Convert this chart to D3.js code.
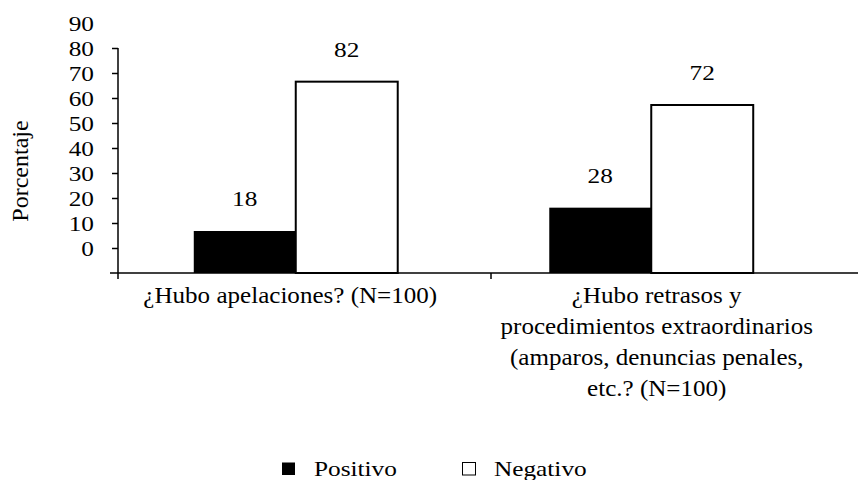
<!DOCTYPE html>
<html>
<head>
<meta charset="utf-8">
<script src="https://cdn.jsdelivr.net/npm/d3@7"></script>
<style>
  html, body { margin: 0; padding: 0; background: #fff; }
  svg text { font-family: "Liberation Serif", "Times New Roman", serif; fill: #000; }
</style>
</head>
<body>
<svg id="chart" width="858" height="480"></svg>
<script>
// Data
const categories = [
  ["¿Hubo apelaciones? (N=100)"],
  ["¿Hubo retrasos y", "procedimientos extraordinarios", "(amparos, denuncias penales,", "etc.? (N=100)"]
];
const seriesNames = ["Positivo", "Negativo"];
const positivo = [18, 28];
const negativo = [82, 72];
const tickLabels = [0, 10, 20, 30, 40, 50, 60, 70, 80, 90];

const svg = d3.select("#chart");
const W = 858;
const stretch = 1.15;     // horizontal widening of the serif glyphs
const catStretch = 1.09;  // same, for the category labels

const catIds = categories.map((c, i) => i);
const rows = catIds.map(i => ({ id: i, values: [positivo[i], negativo[i]] }));

// Bar scales
const x0 = d3.scaleBand().domain(catIds).range([118, 829]).paddingInner(0).paddingOuter(0);
const x1 = d3.scaleBand().domain(seriesNames).range([0, x0.bandwidth()]).paddingInner(0).paddingOuter(0.743);
const y = d3.scaleLinear().domain([0, 96]).range([273, 49]);

// Scale used by the printed axis labels
const yTick = d3.scaleLinear().domain([0, 90]).range([248, 23]);
// Category separators along the base line
const xSep = d3.scaleBand().domain(catIds).range([118, 864]);
// Category label placement
const xLab = d3.scaleBand().domain(catIds).range([107, 840]);

const fills = { "Positivo": "#000", "Negativo": "#fff" };

// Bars
const groups = svg.append("g").selectAll("g.cat").data(rows).join("g")
  .attr("class", "cat")
  .attr("transform", d => `translate(${x0(d.id)},0)`);

groups.selectAll("rect").data(d => d.values.map((v, k) => ({ s: seriesNames[k], v })))
  .join("rect")
  .attr("x", d => x1(d.s))
  .attr("y", d => y(d.v))
  .attr("width", x1.bandwidth())
  .attr("height", d => y(0) - y(d.v))
  .attr("fill", d => fills[d.s])
  .attr("stroke", "#000")
  .attr("stroke-width", d => d.s === "Negativo" ? 2 : 0);

// Value labels
groups.selectAll("text.val").data(d => d.values.map((v, k) => ({ s: seriesNames[k], v })))
  .join("text")
  .attr("class", "val")
  .attr("text-anchor", "middle")
  .attr("font-size", 22)
  .attr("transform", d => `translate(${x1(d.s) + x1.bandwidth() / 2},${y(d.v) - 25}) scale(${stretch},1)`)
  .text(d => d.v);

// Y axis
const axisG = svg.append("g").attr("transform", "translate(118,0)");
axisG.call(d3.axisLeft(yTick).tickValues(tickLabels).tickSize(6).tickPadding(18).tickFormat(d3.format("d")));
axisG.select(".domain").remove();
axisG.selectAll(".tick line").attr("stroke", "#000").attr("stroke-width", 1.5)
  .filter(d => d === 90).remove();
axisG.selectAll(".tick text")
  .attr("font-size", 22)
  .attr("dy", "0.34em")
  .each(function () {
    const t = d3.select(this);
    const xx = +t.attr("x");
    t.attr("x", null).attr("transform", `translate(${xx},0) scale(${stretch},1)`);
  });

// Vertical axis line, extends slightly below the base line
svg.append("line")
  .attr("x1", 118).attr("x2", 118)
  .attr("y1", yTick(80)).attr("y2", y(0) + 6)
  .attr("stroke", "#000").attr("stroke-width", 1.5);

// Base line
svg.append("line")
  .attr("x1", 110).attr("x2", W)
  .attr("y1", y(0)).attr("y2", y(0))
  .attr("stroke", "#000").attr("stroke-width", 1.5);

// Category separator ticks
svg.selectAll("line.sep").data(catIds.slice(1)).join("line")
  .attr("class", "sep")
  .attr("x1", d => xSep(d)).attr("x2", d => xSep(d))
  .attr("y1", y(0)).attr("y2", y(0) + 6)
  .attr("stroke", "#000").attr("stroke-width", 1.5);

// Category labels
svg.selectAll("g.catlab").data(rows).join("g")
  .attr("class", "catlab")
  .each(function (d) {
    const cx = xLab(d.id) + xLab.bandwidth() / 2;
    d3.select(this).selectAll("text").data(categories[d.id]).join("text")
      .attr("text-anchor", "middle")
      .attr("font-size", 23)
      .attr("transform", (line, k) => `translate(${cx},${303 + k * 31}) scale(${catStretch},1)`)
      .text(line => line);
  });

// Y axis title
svg.append("text")
  .attr("text-anchor", "middle")
  .attr("font-size", 24)
  .attr("transform", "translate(28,171) rotate(-90)")
  .text("Porcentaje");

// Legend
const legend = svg.append("g").attr("transform", "translate(282,462)");
const legItems = legend.selectAll("g").data(seriesNames).join("g")
  .attr("transform", (d, i) => `translate(${i * 180},0)`);
legItems.append("rect")
  .attr("x", d => d === "Negativo" ? 0.5 : 0)
  .attr("y", 0.5)
  .attr("width", 13).attr("height", 12.5)
  .attr("fill", d => fills[d])
  .attr("stroke", "#000")
  .attr("stroke-width", d => d === "Negativo" ? 1 : 0);
legItems.append("text")
  .attr("font-size", 22)
  .attr("transform", `translate(32,14) scale(${stretch},1)`)
  .text(d => d);
</script>
</body>
</html>
